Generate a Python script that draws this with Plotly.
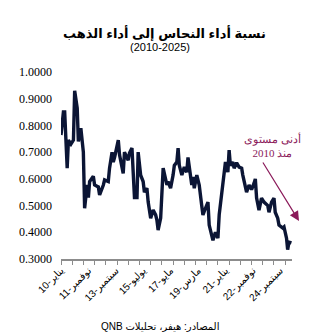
import plotly.graph_objects as go

# Copper-to-gold performance ratio
dates = [
    "2010-01", "2010-03", "2010-04", "2010-06", "2010-07", "2010-09", "2010-11", "2010-12",
    "2011-02", "2011-03", "2011-05", "2011-07", "2011-08", "2011-10", "2011-11", "2011-12",
    "2012-03", "2012-04", "2012-07", "2012-08", "2012-11", "2012-12",
    "2013-03", "2013-04", "2013-06", "2013-07", "2013-08", "2013-11", "2013-12",
    "2014-02", "2014-03", "2014-04", "2014-07", "2014-08", "2014-10", "2014-12",
    "2015-02", "2015-03", "2015-05", "2015-07", "2015-08", "2015-10", "2015-11",
    "2016-01", "2016-03", "2016-05", "2016-06", "2016-07", "2016-09", "2016-11", "2016-12",
    "2017-02", "2017-03", "2017-05", "2017-07", "2017-08", "2017-10", "2017-11", "2017-12",
    "2018-02", "2018-04", "2018-06", "2018-07", "2018-10", "2018-11", "2018-12",
    "2019-02", "2019-04", "2019-06", "2019-07", "2019-09", "2019-11", "2019-12",
    "2020-02", "2020-03", "2020-05", "2020-07", "2020-08", "2020-10", "2020-11",
    "2021-01", "2021-03", "2021-04", "2021-05", "2021-07", "2021-08", "2021-10", "2021-12",
    "2022-02", "2022-03", "2022-05", "2022-06", "2022-08", "2022-10", "2022-12",
    "2023-01", "2023-02", "2023-04", "2023-06", "2023-08", "2023-11", "2023-12",
    "2024-02", "2024-04", "2024-05", "2024-07", "2024-08", "2024-11", "2024-12",
    "2025-02", "2025-03", "2025-04", "2025-06",
]
ratio = [
    0.764, 0.850, 0.850, 0.640, 0.745, 0.730, 0.745, 0.930,
    0.865, 0.740, 0.790, 0.700, 0.490, 0.577, 0.530, 0.590,
    0.610, 0.577, 0.570, 0.540, 0.577, 0.596,
    0.590, 0.640, 0.700, 0.663, 0.680, 0.745, 0.690,
    0.650, 0.620, 0.700, 0.670, 0.697, 0.715, 0.530,
    0.530, 0.700, 0.614, 0.590, 0.550, 0.565, 0.513,
    0.453, 0.483, 0.465, 0.446, 0.408, 0.453, 0.640, 0.614,
    0.577, 0.590, 0.565, 0.614, 0.650, 0.663, 0.715, 0.650,
    0.614, 0.644, 0.625, 0.680, 0.577, 0.607, 0.565,
    0.614, 0.577, 0.500, 0.465, 0.490, 0.513, 0.427,
    0.390, 0.370, 0.400, 0.378, 0.465, 0.540, 0.600,
    0.663, 0.625, 0.708, 0.650, 0.663, 0.640, 0.660, 0.644,
    0.640, 0.614, 0.565, 0.550, 0.577, 0.560, 0.584,
    0.600, 0.528, 0.483, 0.528, 0.513, 0.500, 0.475,
    0.513, 0.528, 0.475, 0.453, 0.427, 0.416, 0.420,
    0.378, 0.335, 0.363, 0.360,
]

tick_dates = ["2010-01-01", "2011-11-01", "2013-09-01", "2015-07-01", "2017-05-01",
              "2019-03-01", "2021-01-01", "2022-11-01", "2024-09-01"]
tick_labels = ["يناير-10", "نوفمبر-11", "سبتمبر-13", "يوليو-15", "مايو-17",
               "مارس-19", "يناير-21", "نوفمبر-22", "سبتمبر-24"]
y_ticks = [0.3, 0.4, 0.5, 0.6, 0.7, 0.8, 0.9, 1.0]

title = "<b>نسبة أداء النحاس إلى أداء الذهب</b>"
subtitle = "(2010-2025)"
source = "\u202bالمصادر: هيفر، تحليلات QNB\u202c"
note = "أدنى مستوى<br>منذ 2010"

SERIF = "Liberation Serif, DejaVu Serif, serif"
SANS = "Liberation Sans, DejaVu Sans, sans-serif"

fig = go.Figure()
fig.add_trace(go.Scatter(
    x=[d + "-01" for d in dates], y=ratio, mode="lines",
    line=dict(color="#0b1535", width=3.4), hoverinfo="skip", showlegend=False,
))

fig.update_layout(
    width=328, height=336,
    margin=dict(l=61, r=36, t=72, b=77),
    paper_bgcolor="white", plot_bgcolor="white",
    showlegend=False,
    xaxis=dict(
        type="date", range=["2010-01-01", "2025-06-15"],
        tickvals=tick_dates, ticktext=tick_labels, tickangle=-45,
        ticks="", showgrid=False, zeroline=False,
        showline=True, linecolor="#8c8c8c", linewidth=1.5,
        tickfont=dict(family=SANS, size=10, color="#000"),
        minor=dict(ticks="outside", tick0="2010-01-01", dtick="M9",
                   ticklen=4, tickcolor="#8c8c8c", tickwidth=1, showgrid=False),
    ),
    yaxis=dict(
        range=[0.3, 1.0], tickvals=y_ticks, tickformat=".4f",
        showgrid=False, zeroline=False, showline=False, ticks="",
        ticklabelstandoff=8,
        tickfont=dict(family=SERIF, size=12, color="#000"),
    ),
    annotations=[
        dict(text=title, xref="paper", yref="paper", x=0.45, y=(259 - 33) / 187,
             xanchor="center", yanchor="middle", showarrow=False,
             font=dict(family=SANS, size=13, color="#000")),
        dict(text=subtitle, xref="paper", yref="paper", x=0.43, y=(259 - 47) / 187,
             xanchor="center", yanchor="middle", showarrow=False,
             font=dict(family=SANS, size=11, color="#000")),
        dict(text=source, xref="paper", yref="paper", x=0.43, y=(259 - 326) / 187,
             xanchor="center", yanchor="middle", showarrow=False,
             font=dict(family=SANS, size=10, color="#000")),
        dict(text=note, xref="paper", yref="paper", x=(272 - 61) / 231, y=(259 - 145) / 187,
             xanchor="center", yanchor="middle", showarrow=False,
             font=dict(family=SERIF, size=11, color="#8b1a5a")),
        dict(text="", xref="paper", yref="paper", x=(299 - 61) / 231, y=(259 - 221) / 187,
             ax=-37, ay=-60, showarrow=True, arrowhead=2, arrowsize=1.6,
             arrowwidth=1.2, arrowcolor="#8b1a5a"),
    ],
)

fig.write_html("out.html")
